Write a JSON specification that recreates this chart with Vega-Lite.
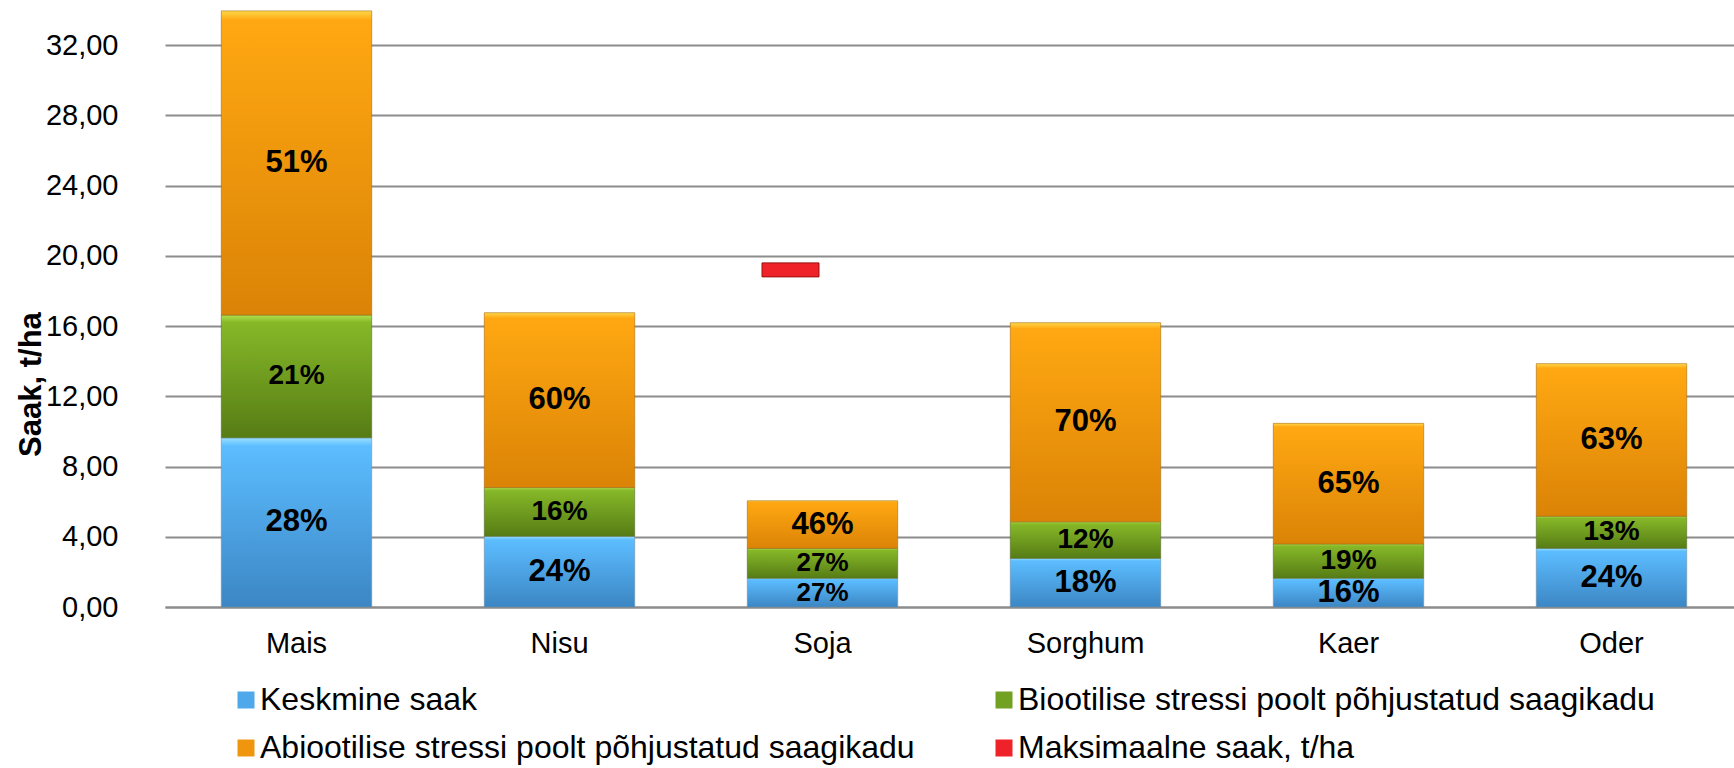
{
  "$schema": "https://vega.github.io/schema/vega-lite/v6.json",
  "autosize": {"type": "none"},
  "padding": {"left": 165, "top": 0, "right": 0, "bottom": 161},
  "width": 1578,
  "height": 607,
  "background": "white",
  "config": {
    "view": {"stroke": null},
    "font": "Liberation Sans",
    "axis": {"labelFont": "Liberation Sans", "titleFont": "Liberation Sans", "labelColor": "#000000", "titleColor": "#000000"}
  },
  "datasets": {
    "yields": [
      {"crop": "Mais", "series": "Keskmine saak", "value": 9.64, "pct": "28%"},
      {"crop": "Mais", "series": "Biootilise stressi poolt põhjustatud saagikadu", "value": 6.99, "pct": "21%"},
      {"crop": "Mais", "series": "Abiootilise stressi poolt põhjustatud saagikadu", "value": 17.32, "pct": "51%"},
      {"crop": "Nisu", "series": "Keskmine saak", "value": 4.03, "pct": "24%"},
      {"crop": "Nisu", "series": "Biootilise stressi poolt põhjustatud saagikadu", "value": 2.77, "pct": "16%"},
      {"crop": "Nisu", "series": "Abiootilise stressi poolt põhjustatud saagikadu", "value": 9.96, "pct": "60%"},
      {"crop": "Soja", "series": "Keskmine saak", "value": 1.64, "pct": "27%"},
      {"crop": "Soja", "series": "Biootilise stressi poolt põhjustatud saagikadu", "value": 1.70, "pct": "27%"},
      {"crop": "Soja", "series": "Abiootilise stressi poolt põhjustatud saagikadu", "value": 2.71, "pct": "46%"},
      {"crop": "Sorghum", "series": "Keskmine saak", "value": 2.77, "pct": "18%"},
      {"crop": "Sorghum", "series": "Biootilise stressi poolt põhjustatud saagikadu", "value": 2.08, "pct": "12%"},
      {"crop": "Sorghum", "series": "Abiootilise stressi poolt põhjustatud saagikadu", "value": 11.34, "pct": "70%"},
      {"crop": "Kaer", "series": "Keskmine saak", "value": 1.64, "pct": "16%"},
      {"crop": "Kaer", "series": "Biootilise stressi poolt põhjustatud saagikadu", "value": 1.95, "pct": "19%"},
      {"crop": "Kaer", "series": "Abiootilise stressi poolt põhjustatud saagikadu", "value": 6.87, "pct": "65%"},
      {"crop": "Oder", "series": "Keskmine saak", "value": 3.34, "pct": "24%"},
      {"crop": "Oder", "series": "Biootilise stressi poolt põhjustatud saagikadu", "value": 1.83, "pct": "13%"},
      {"crop": "Oder", "series": "Abiootilise stressi poolt põhjustatud saagikadu", "value": 8.69, "pct": "63%"}
    ],
    "maxYield": [
      {"crop": "Soja", "series": "Maksimaalne saak, t/ha", "value": 19.2}
    ]
  },
  "layer": [
    {
      "data": {"name": "yields"},
      "transform": [
        {"stack": "value", "groupby": ["crop"], "sort": [{"field": "series", "order": "descending"}], "as": ["v0", "v1"]},
        {"filter": "datum.series === 'Keskmine saak'"}
      ],
      "mark": {"type": "bar", "stroke": "#6f8fa8", "strokeWidth": 1, "strokeOpacity": 0.6,
        "color": {"gradient": "linear", "x1": 0, "y1": 0, "x2": 0, "y2": 1,
          "stops": [{"offset": 0, "color": "#9BE0FF"}, {"offset": 0.05, "color": "#5CBDFF"}, {"offset": 1, "color": "#3C86C4"}]}},
      "encoding": {
        "x": {"field": "crop", "type": "nominal", "sort": ["Mais", "Nisu", "Soja", "Sorghum", "Kaer", "Oder"],
          "scale": {"paddingInner": 0.428, "paddingOuter": 0.214},
          "axis": {"title": null, "labelAngle": 0, "labelFontSize": 29, "labelPadding": 22, "ticks": false,
            "domainColor": "#8c8c8c", "domainWidth": 2}},
        "y": {"field": "v1", "type": "quantitative",
          "scale": {"domain": [0, 34.57], "nice": false},
          "axis": {"title": "Saak, t/ha", "titleFontSize": 31, "titleFontWeight": "bold",
            "titleX": -134, "titleY": 384, "titleAngle": -90, "titleAlign": "center", "titleBaseline": "middle",
            "values": [0, 4, 8, 12, 16, 20, 24, 28, 32],
            "labelExpr": "replace(format(datum.value, '.2f'), '.', ',')",
            "labelFontSize": 29, "labelPadding": 47, "ticks": false, "domain": false,
            "grid": true, "gridColor": "#8c8c8c", "gridWidth": 2}},
        "y2": {"field": "v0"}
      }
    },
    {
      "data": {"name": "yields"},
      "transform": [
        {"stack": "value", "groupby": ["crop"], "sort": [{"field": "series", "order": "descending"}], "as": ["v0", "v1"]},
        {"filter": "datum.series === 'Biootilise stressi poolt põhjustatud saagikadu'"}
      ],
      "mark": {"type": "bar", "stroke": "#5a6e30", "strokeWidth": 1, "strokeOpacity": 0.6,
        "color": {"gradient": "linear", "x1": 0, "y1": 0, "x2": 0, "y2": 1,
          "stops": [{"offset": 0, "color": "#B4E050"}, {"offset": 0.06, "color": "#86B828"}, {"offset": 1, "color": "#567C15"}]}},
      "encoding": {
        "x": {"field": "crop", "type": "nominal", "sort": ["Mais", "Nisu", "Soja", "Sorghum", "Kaer", "Oder"]},
        "y": {"field": "v1", "type": "quantitative"},
        "y2": {"field": "v0"}
      }
    },
    {
      "data": {"name": "yields"},
      "transform": [
        {"stack": "value", "groupby": ["crop"], "sort": [{"field": "series", "order": "descending"}], "as": ["v0", "v1"]},
        {"filter": "datum.series === 'Abiootilise stressi poolt põhjustatud saagikadu'"}
      ],
      "mark": {"type": "bar", "stroke": "#a86a10", "strokeWidth": 1, "strokeOpacity": 0.6,
        "color": {"gradient": "linear", "x1": 0, "y1": 0, "x2": 0, "y2": 1,
          "stops": [{"offset": 0, "color": "#FFD84A"}, {"offset": 0.03, "color": "#FFA812"}, {"offset": 1, "color": "#DB8306"}]}},
      "encoding": {
        "x": {"field": "crop", "type": "nominal", "sort": ["Mais", "Nisu", "Soja", "Sorghum", "Kaer", "Oder"]},
        "y": {"field": "v1", "type": "quantitative"},
        "y2": {"field": "v0"}
      }
    },
    {
      "data": {"name": "yields"},
      "transform": [
        {"stack": "value", "groupby": ["crop"], "sort": [{"field": "series", "order": "descending"}], "as": ["v0", "v1"]},
        {"calculate": "(datum.v0 + datum.v1) / 2", "as": "mid"}
      ],
      "mark": {"type": "text", "font": "Liberation Sans", "fontWeight": "bold", "color": "#000000", "baseline": "middle", "align": "center"},
      "encoding": {
        "x": {"field": "crop", "type": "nominal", "sort": ["Mais", "Nisu", "Soja", "Sorghum", "Kaer", "Oder"]},
        "y": {"field": "mid", "type": "quantitative"},
        "text": {"field": "pct"},
        "size": {
          "condition": [
            {"test": "datum.crop === 'Soja' && datum.series !== 'Abiootilise stressi poolt põhjustatud saagikadu'", "value": 26},
            {"test": "datum.series === 'Biootilise stressi poolt põhjustatud saagikadu'", "value": 28}
          ],
          "value": 31
        }
      }
    },
    {
      "data": {"name": "maxYield"},
      "mark": {"type": "tick", "size": 57, "thickness": 14, "xOffset": -32, "opacity": 1, "stroke": "#9b1010", "strokeWidth": 1},
      "encoding": {
        "x": {"field": "crop", "type": "nominal", "sort": ["Mais", "Nisu", "Soja", "Sorghum", "Kaer", "Oder"]},
        "y": {"field": "value", "type": "quantitative"},
        "color": {
          "field": "series", "type": "nominal",
          "scale": {
            "domain": ["Keskmine saak", "Abiootilise stressi poolt põhjustatud saagikadu", "Biootilise stressi poolt põhjustatud saagikadu", "Maksimaalne saak, t/ha"],
            "range": ["#4FA8EA", "#F0960E", "#72A020", "#EE2228"]
          },
          "legend": {
            "title": null, "orient": "none", "legendX": 65, "legendY": 684, "columns": 2,
            "symbolType": "square", "symbolSize": 289, "symbolStrokeWidth": 0, "symbolOpacity": 1,
            "labelFont": "Liberation Sans", "labelFontSize": 32, "labelColor": "#000000", "labelLimit": 1000,
            "labelOffset": -2, "columnPadding": 73, "rowPadding": 16
          }
        }
      }
    }
  ]
}
